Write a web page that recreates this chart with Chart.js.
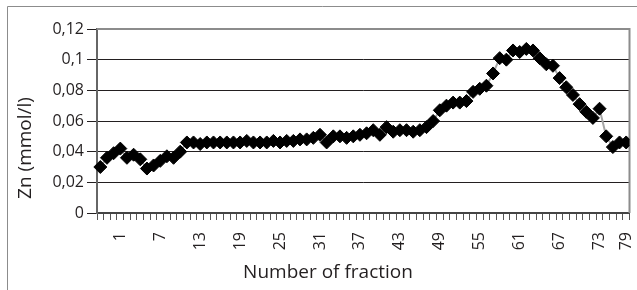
<!DOCTYPE html>
<html>
<head>
<meta charset="utf-8">
<script src="https://cdn.jsdelivr.net/npm/chart.js@4"></script>
<style>
  html, body { margin: 0; padding: 0; background: #fff; }
  #wrap { position: relative; width: 637px; height: 290px; }
</style>
</head>
<body>
<div id="wrap"><canvas id="chart" width="637" height="290"></canvas></div>
<script>
// ── Data ─────────────────────────────────────────────────────
// Zn concentration per fraction (mmol/l)
const zn = [
  0.030, 0.036, 0.039, 0.042, 0.036, 0.038, 0.035, 0.029, 0.031, 0.034,
  0.037, 0.036, 0.040, 0.046, 0.046, 0.045, 0.046, 0.046, 0.046, 0.046,
  0.046, 0.046, 0.047, 0.046, 0.046, 0.046, 0.047, 0.046, 0.047, 0.047,
  0.048, 0.048, 0.049, 0.051, 0.046, 0.050, 0.050, 0.049, 0.050, 0.051,
  0.052, 0.054, 0.051, 0.056, 0.053, 0.054, 0.054, 0.053, 0.054, 0.056,
  0.060, 0.067, 0.070, 0.072, 0.072, 0.073, 0.079, 0.081, 0.083, 0.091,
  0.101, 0.100, 0.106, 0.105, 0.107, 0.106, 0.101, 0.097, 0.096, 0.088,
  0.082, 0.077, 0.071, 0.066, 0.062, 0.068, 0.050, 0.043, 0.046, 0.046
];

// category labels that show on the x axis, and the slot each one sits in
const tickLabels = ['1', '7', '13', '19', '25', '31', '37', '43', '49', '55', '61', '67', '73', '79'];
const tickSlots  = [3, 9, 15, 21, 27, 33, 39, 45, 51, 57, 63, 69, 75, 79];

const yTicks = [0, 0.02, 0.04, 0.06, 0.08, 0.1, 0.12];

const categories = zn.map((_, i) => {
  const k = tickSlots.indexOf(i);
  return k >= 0 ? tickLabels[k] : '';
});

const FONT = '"Open Sans", "Noto Sans", sans-serif';
const INK  = '#231f20';

// ── Frame + axis titles ─────────────────────────────────────
const decor = {
  id: 'decor',
  beforeDraw(chart) {
    const ctx = chart.ctx;
    ctx.save();
    ctx.strokeStyle = '#8c8c8c';
    ctx.lineWidth = 1;
    ctx.beginPath();
    ctx.moveTo(7.5, 290);
    ctx.lineTo(7.5, 6.5);
    ctx.lineTo(637, 6.5);
    ctx.stroke();
    ctx.restore();
  },
  beforeDatasetsDraw(chart) {
    const { ctx, chartArea: a } = chart;
    ctx.save();
    ctx.strokeStyle = '#8c8c8c';
    ctx.lineWidth = 2;
    ctx.beginPath();
    ctx.moveTo(a.left, a.top);
    ctx.lineTo(a.right, a.top);
    ctx.lineTo(a.right, a.bottom);
    ctx.stroke();
    ctx.restore();
  },
  afterDraw(chart) {
    const ctx = chart.ctx;
    ctx.save();
    ctx.fillStyle = INK;
    ctx.font = '19px ' + FONT;
    ctx.textAlign = 'center';
    ctx.textBaseline = 'alphabetic';
    ctx.fillText('Number of fraction', 328, 278);
    ctx.translate(31, 148);
    ctx.rotate(-Math.PI / 2);
    ctx.fillText('Zn (mmol/l)', 0, 0);
    ctx.restore();
  }
};

// ── Chart ───────────────────────────────────────────────────
new Chart(document.getElementById('chart'), {
  type: 'line',
  data: {
    labels: categories,
    datasets: [{
      data: zn,
      borderColor: '#a6a6a6',
      borderWidth: 2,
      tension: 0,
      pointStyle: 'rectRot',
      pointRadius: 6.5,
      pointBackgroundColor: '#000',
      pointBorderColor: '#000',
      pointBorderWidth: 1,
      clip: { left: 8, top: 8, right: 0, bottom: 8 }
    }]
  },
  options: {
    responsive: false,
    animation: false,
    layout: { padding: { top: 29, right: 3, left: 0, bottom: 0 } },
    plugins: { legend: { display: false }, tooltip: { enabled: false } },
    scales: {
      x: {
        offset: true,
        grid: {
          offset: true,
          drawOnChartArea: false,
          drawTicks: true,
          tickLength: 7,
          color: '#555'
        },
        border: { display: true, color: '#444', width: 2 },
        ticks: {
          autoSkip: false,
          maxRotation: 90,
          minRotation: 90,
          padding: 12,
          color: INK,
          font: { family: FONT, size: 16 }
        },
        afterFit(s) { s.height = 77; s.paddingLeft = 0; s.paddingRight = 0; }
      },
      y: {
        min: 0,
        max: 0.12,
        afterBuildTicks(s) { s.ticks = yTicks.map(v => ({ value: v })); },
        grid: { color: '#231f20', lineWidth: 1, tickLength: 10 },
        border: { display: true, color: '#666', width: 2 },
        ticks: {
          padding: 3,
          color: INK,
          font: { family: FONT, size: 16 },
          callback: v => String(Number(v.toFixed(2))).replace('.', ',')
        },
        afterFit(s) { s.width = 97; }
      }
    }
  },
  plugins: [decor]
});
</script>
</body>
</html>
